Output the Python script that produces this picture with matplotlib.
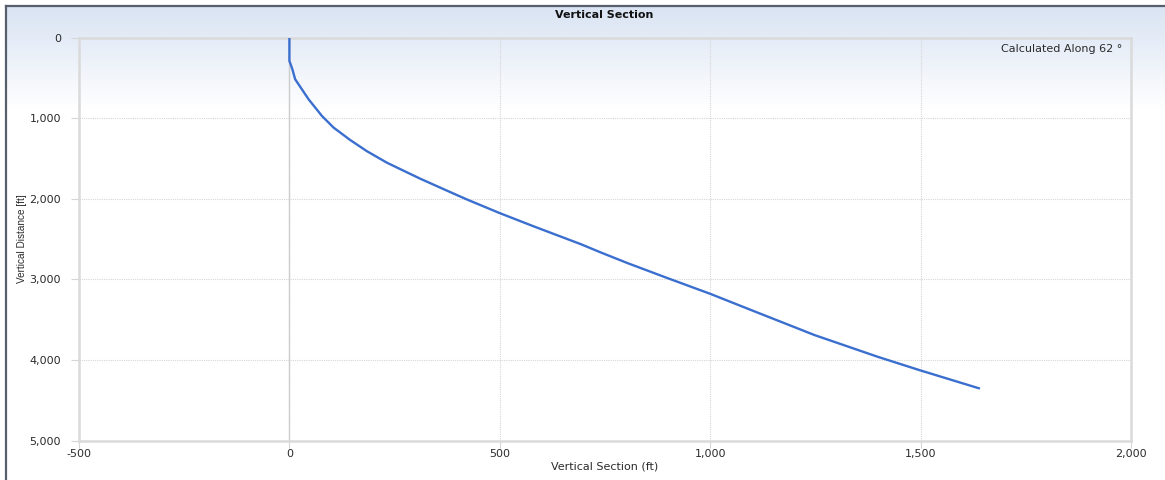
import matplotlib
matplotlib.use("Agg")
import matplotlib.pyplot as plt
import numpy as np
from matplotlib.lines import Line2D

# Data
vertical_section = [0, 0, 7, 13.6, 45.5, 77.4, 105, 144.5, 184, 232, 287, 311, 383, 423,
                    499, 581, 693, 740, 804, 899, 1001, 1097, 1216, 1248, 1399, 1498, 1641]
vertical_distance = [0, 290, 392, 517, 766, 974, 1118, 1272, 1410, 1554, 1692, 1752, 1920, 2012,
                     2177, 2344, 2565, 2667, 2800, 2986, 3182, 3381, 3626, 3692, 3963, 4128, 4356]
x_ticks = [-500, 0, 500, 1000, 1500, 2000]
y_ticks = [0, 1000, 2000, 3000, 4000, 5000]
title = "Vertical Section"
x_label = "Vertical Section (ft)"
y_label = "Vertical Distance [ft]"
note = "Calculated Along 62 °"

plt.rcParams['font.family'] = ['DejaVu Sans']

W, H = 1165, 480
fig = plt.figure(figsize=(W / 100, H / 100), dpi=100)
fig.patch.set_facecolor('white')

# background gradient panel
bg = fig.add_axes([5 / W, 0, 1 - 5 / W, 1 - 5 / H], zorder=0)
bg.set_axis_off()
n = 480
rows = np.linspace(0, 1, n)
top = np.array([217, 227, 243]) / 255.0
grad = np.ones((n, 1, 3))
for i, r in enumerate(rows):
    t = min(r / 0.22, 1.0)
    grad[i, 0, :] = top * (1 - t) + np.ones(3) * t
bg.imshow(grad, aspect='auto', extent=[0, 1, 0, 1], origin='upper')
bg.set_xlim(0, 1)
bg.set_ylim(0, 1)

# frame lines (left and top)
fig.add_artist(Line2D([5.5 / W, 5.5 / W], [0, 1 - 5.5 / H], color='#56606c', lw=1.6, transform=fig.transFigure))
fig.add_artist(Line2D([5.5 / W, 1], [1 - 5.5 / H, 1 - 5.5 / H], color='#56606c', lw=1.6, transform=fig.transFigure))

left, right, topy, bottom = 79, 1131, 37.5, 440.5
ax = fig.add_axes([left / W, 1 - bottom / H, (right - left) / W, (bottom - topy) / H], zorder=1)
ax.patch.set_alpha(0)

ax.plot(vertical_section, vertical_distance, color='#3b6fcf', lw=1.7, zorder=3,
        solid_capstyle='butt', solid_joinstyle='round')

ax.set_xlim(-500, 2000)
ax.set_ylim(5000, 0)
ax.set_xticks(x_ticks)
ax.set_yticks(y_ticks)
ax.set_xticklabels([f"{v:,}" for v in x_ticks])
ax.set_yticklabels([f"{v:,}" for v in y_ticks])

ax.grid(True, color='#d6d6d6', linestyle=(0, (1, 1)), lw=0.8)
ax.axvline(0, color='#cdcdcd', lw=1.0, zorder=2)

for s in ax.spines.values():
    s.set_color('#dadada')
    s.set_linewidth(1.8)

ax.tick_params(axis='both', colors='#d6d6d6', labelcolor='#2b2b2b', labelsize=8, length=6, width=0.8)
ax.tick_params(axis='y', pad=7)
ax.tick_params(axis='x', pad=1, length=5)

ax.set_xlabel(x_label, fontsize=8, color='#2b2b2b', labelpad=2)
ax.set_ylabel(y_label, fontsize=7.2, color='#2b2b2b', labelpad=2,
              family=['Liberation Sans Narrow', 'Liberation Sans', 'DejaVu Sans'])

ax.text(0.992, 0.983, note, transform=ax.transAxes, ha='right', va='top', fontsize=8, color='#2b2b2b')

fig.text(604 / W, 1 - 15 / H, title, ha='center', va='center', fontsize=8, fontweight='bold', color='#111111')

fig.savefig('out.png', dpi=100)
